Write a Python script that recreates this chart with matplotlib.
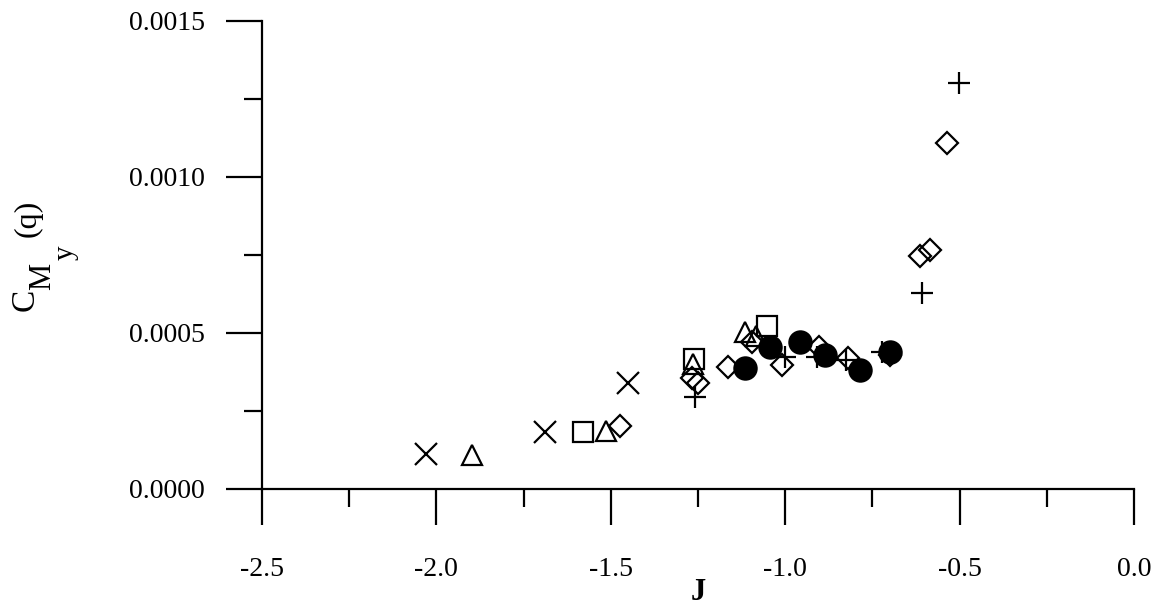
# -*- coding: utf-8 -*-
"""
Moment coefficient C_My (q) vs advance ratio J, scatter of several data sets
"""

import matplotlib.pyplot as plt
import numpy as np
from matplotlib.ticker import FormatStrFormatter, MultipleLocator

# data (one list pair per marker type)
cross_J = [-2.03, -1.69, -1.45]
cross_C = [0.000112, 0.000183, 0.00034]

tri_J = [-1.898, -1.514, -1.264, -1.115, -1.085]
tri_C = [0.000109, 0.000186, 0.000400, 0.000503, 0.000490]

square_J = [-1.580, -1.261, -1.052]
square_C = [0.000183, 0.000417, 0.000522]

diamond_J = [-1.474, -1.267, -1.250, -1.164, -1.095, -1.009, -0.903, -0.820,
             -0.700, -0.613, -0.585, -0.536]
diamond_C = [0.000202, 0.000356, 0.000340, 0.000391, 0.000471, 0.000397,
             0.000455, 0.000420, 0.000428, 0.000747, 0.000766, 0.00111]

plus_J = [-1.259, -1.000, -0.909, -0.826, -0.722, -0.608, -0.502]
plus_C = [0.000295, 0.000423, 0.000423, 0.000413, 0.000439, 0.000628, 0.00130]

circle_J = [-1.115, -1.044, -0.958, -0.886, -0.786, -0.700]
circle_C = [0.000388, 0.000455, 0.000471, 0.000430, 0.000381, 0.000440]

plt.rcParams['font.family'] = 'Liberation Serif'
plt.rcParams['axes.unicode_minus'] = False

fig = plt.figure(figsize=(11.61, 6.07), dpi=100)
ax = fig.add_axes([262 / 1161, 1 - 489 / 607, 872 / 1161, 468 / 607])

lw = 1.6
ax.plot(cross_J, cross_C, 'x', color='black', ms=16, mew=lw, clip_on=False)
ax.plot(tri_J, tri_C, '^', color='black', mfc='none', ms=15, mew=lw, clip_on=False)
ax.plot(square_J, square_C, 's', color='black', mfc='none', ms=15, mew=lw, clip_on=False)
ax.plot(diamond_J, diamond_C, 'D', color='black', mfc='none', ms=11, mew=lw, clip_on=False)
ax.plot(plus_J, plus_C, '+', color='black', ms=16, mew=lw, clip_on=False)
ax.plot(circle_J, circle_C, 'o', color='black', ms=16, mew=lw, clip_on=False)

ax.set_xlim(-2.5, 0.0)
ax.set_ylim(0.0, 0.0015)
ax.xaxis.set_major_locator(MultipleLocator(0.5))
ax.xaxis.set_minor_locator(MultipleLocator(0.25))
ax.yaxis.set_major_locator(MultipleLocator(0.0005))
ax.yaxis.set_minor_locator(MultipleLocator(0.00025))
ax.xaxis.set_major_formatter(FormatStrFormatter('%.1f'))
ax.yaxis.set_major_formatter(FormatStrFormatter('%.4f'))

ax.spines['top'].set_visible(False)
ax.spines['right'].set_visible(False)
ax.spines['left'].set_linewidth(lw)
ax.spines['bottom'].set_linewidth(lw)
ax.tick_params(which='major', direction='out', length=26, width=lw, labelsize=20)
ax.tick_params(which='minor', direction='out', length=13, width=lw)
ax.tick_params(axis='x', which='major', pad=23)
ax.tick_params(axis='y', which='major', pad=15)

# axis labels
ax.set_xlabel('J', fontsize=22, fontweight='bold')
ax.xaxis.set_label_coords(0.5, -0.19)

# y label built from pieces so the subscripts stay large
fig.text(25 / 1161, 1 - 300 / 607, 'C', fontsize=24, rotation=90, ha='center', va='center')
fig.text(43 / 1161, 1 - 276 / 607, 'M', fontsize=22, rotation=90, ha='center', va='center')
fig.text(66 / 1161, 1 - 253 / 607, 'y', fontsize=21, rotation=90, ha='center', va='center')
fig.text(28 / 1161, 1 - 218 / 607, '(q)', fontsize=23, rotation=90, ha='center', va='center')

fig.savefig('out.png', dpi=100)
